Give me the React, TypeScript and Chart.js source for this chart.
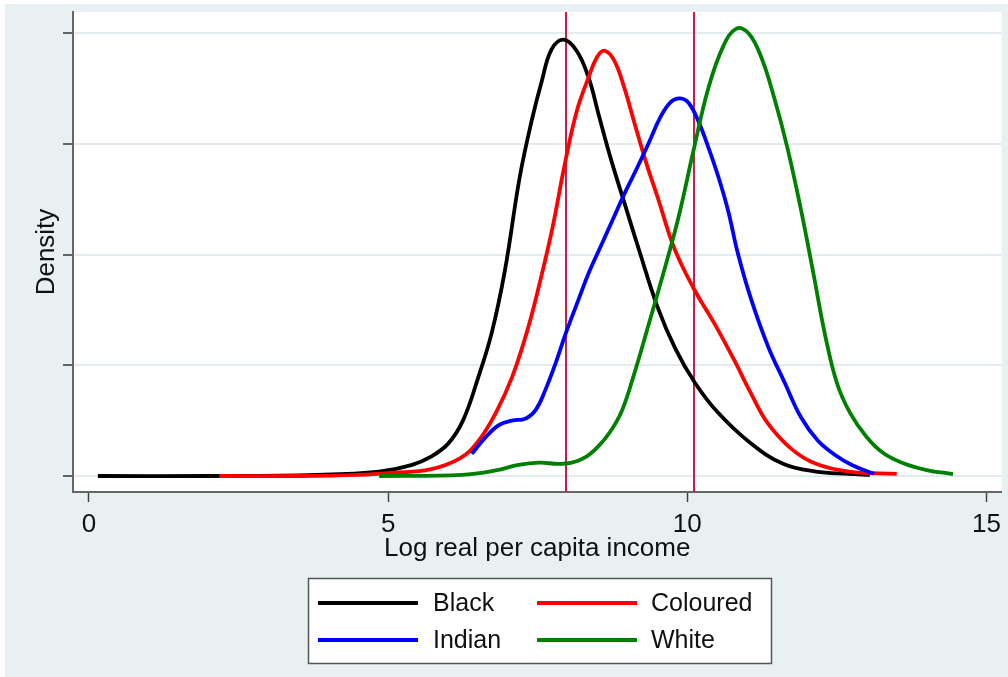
import React, { useEffect, useRef } from "react";
import { Chart, registerables } from "chart.js";

Chart.register(...registerables);

// ---- data ----
const seriesNames = ["Black", "Coloured", "Indian", "White"];
const seriesColors = ["#000000", "#ff0000", "#0000ff", "#008000"];

const blackX = [0.15, 2.0, 3.8, 4.85, 5.4, 5.7, 6.0, 6.25, 6.5, 6.73, 6.95, 7.2, 7.4, 7.57, 7.73, 7.93, 8.15, 8.35, 8.52, 8.73, 8.97, 9.2, 9.5, 9.8, 10.13, 10.5, 11.05, 11.6, 12.15, 12.7, 13.05];
const blackY = [0, 0, 0.001, 0.004, 0.01, 0.017, 0.029, 0.05, 0.088, 0.129, 0.185, 0.27, 0.321, 0.357, 0.385, 0.394, 0.384, 0.36, 0.326, 0.285, 0.243, 0.203, 0.153, 0.115, 0.084, 0.058, 0.03, 0.011, 0.004, 0.002, 0.001];

const colouredX = [2.18, 3.5, 4.5, 5.1, 5.7, 6.2, 6.5, 6.8, 7.07, 7.33, 7.55, 7.75, 7.95, 8.15, 8.35, 8.5, 8.62, 8.78, 8.95, 9.1, 9.3, 9.52, 9.78, 10.1, 10.45, 10.78, 11.06, 11.34, 11.75, 12.15, 12.7, 13.5];
const colouredY = [0, 0, 0.001, 0.003, 0.006, 0.016, 0.031, 0.057, 0.089, 0.132, 0.178, 0.225, 0.281, 0.329, 0.36, 0.379, 0.384, 0.375, 0.35, 0.322, 0.285, 0.249, 0.206, 0.17, 0.138, 0.105, 0.075, 0.048, 0.024, 0.011, 0.004, 0.002];

const indianX = [6.4, 6.63, 6.85, 7.07, 7.3, 7.47, 7.63, 7.8, 7.97, 8.18, 8.35, 8.55, 8.75, 8.95, 9.15, 9.35, 9.55, 9.73, 9.88, 10.02, 10.18, 10.35, 10.52, 10.68, 10.85, 11.07, 11.35, 11.63, 11.9, 12.18, 12.47, 12.75, 13.12];
const indianY = [0.02, 0.035, 0.046, 0.05, 0.052, 0.06, 0.078, 0.102, 0.129, 0.159, 0.183, 0.207, 0.231, 0.255, 0.277, 0.3, 0.324, 0.338, 0.341, 0.337, 0.321, 0.297, 0.27, 0.24, 0.2, 0.159, 0.117, 0.084, 0.053, 0.032, 0.019, 0.01, 0.002];

const whiteX = [4.85, 6.23, 6.8, 7.18, 7.52, 7.85, 8.07, 8.3, 8.5, 8.7, 8.9, 9.1, 9.35, 9.6, 9.85, 10.1, 10.35, 10.6, 10.82, 11.02, 11.23, 11.45, 11.67, 11.89, 12.1, 12.3, 12.5, 12.72, 13.0, 13.28, 13.61, 14.0, 14.44];
const whiteY = [0, 0.001, 0.005, 0.01, 0.012, 0.011, 0.012, 0.017, 0.026, 0.039, 0.058, 0.09, 0.136, 0.183, 0.233, 0.293, 0.35, 0.388, 0.404, 0.4, 0.379, 0.342, 0.297, 0.243, 0.185, 0.128, 0.084, 0.057, 0.035, 0.0205, 0.0115, 0.0054, 0.0018];

const seriesX = [blackX, colouredX, indianX, whiteX];
const seriesY = [blackY, colouredY, indianY, whiteY];

const xTickValues = [0, 5, 10, 15];
const yTickValues = [0, 0.1, 0.2, 0.3, 0.4];
const xLineValues = [7.98, 10.12];
const xAxisTitle = "Log real per capita income";
const yAxisTitle = "Density";

const FONT = "'Liberation Sans', Arial, Helvetica, sans-serif";

const bgPlugin = {
  id: "bgPlugin",
  beforeDraw(chart: any) {
    const { ctx, width, height, chartArea } = chart;
    ctx.save();
    ctx.fillStyle = "#ffffff";
    ctx.fillRect(0, 0, width, height);
    ctx.fillStyle = "#e8f0f2";
    ctx.fillRect(5, 4, width - 5, height - 4);
    ctx.fillStyle = "#ffffff";
    ctx.fillRect(chartArea.left, chartArea.top, chartArea.right - chartArea.left, chartArea.bottom - chartArea.top);
    ctx.restore();
  },
};

const vlinePlugin = {
  id: "vlinePlugin",
  beforeDatasetsDraw(chart: any) {
    const { ctx, chartArea, scales } = chart;
    ctx.save();
    ctx.strokeStyle = "#c4204c";
    ctx.lineWidth = 2;
    xLineValues.forEach((v) => {
      const px = Math.round(scales.x.getPixelForValue(v));
      ctx.beginPath();
      ctx.moveTo(px, chartArea.top);
      ctx.lineTo(px, chartArea.bottom);
      ctx.stroke();
    });
    ctx.restore();
  },
};

const legendPlugin = {
  id: "boxLegend",
  afterDraw(chart: any) {
    const { ctx } = chart;
    const box = { x: 308, y: 578, w: 463, h: 85 };
    ctx.save();
    ctx.fillStyle = "#ffffff";
    ctx.fillRect(box.x, box.y, box.w, box.h);
    ctx.strokeStyle = "#555555";
    ctx.lineWidth = 1.5;
    ctx.strokeRect(box.x + 0.5, box.y + 0.5, box.w, box.h);
    const cols = [
      { lx: 318, tx: 433 },
      { lx: 537, tx: 651 },
    ];
    const rows = [603, 640];
    ctx.font = `25px ${FONT}`;
    ctx.textBaseline = "middle";
    ctx.textAlign = "left";
    chart.data.datasets.forEach((ds: any, i: number) => {
      const c = cols[i % 2];
      const r = rows[Math.floor(i / 2)];
      ctx.strokeStyle = ds.borderColor;
      ctx.lineWidth = 3.8;
      ctx.beginPath();
      ctx.moveTo(c.lx, r);
      ctx.lineTo(c.lx + 100, r);
      ctx.stroke();
      ctx.fillStyle = "#111111";
      ctx.fillText(ds.label, c.tx, r + 1);
    });
    ctx.restore();
  },
};

export default function App() {
  const ref = useRef<HTMLCanvasElement | null>(null);

  useEffect(() => {
    if (!ref.current) return;
    const datasets = seriesNames.map((name, i) => ({
      label: name,
      data: seriesX[i].map((x, j) => ({ x, y: seriesY[i][j] })),
      borderColor: seriesColors[i],
      backgroundColor: seriesColors[i],
      borderWidth: 3.8,
      pointRadius: 0,
      fill: false,
      tension: 0.4,
      order: seriesNames.length - i,
    }));

    const chart = new Chart(ref.current, {
      type: "line",
      data: { datasets },
      plugins: [bgPlugin, vlinePlugin, legendPlugin],
      options: {
        animation: false,
        responsive: false,
        devicePixelRatio: 1,
        layout: { padding: { left: 5, top: 12, right: 3, bottom: 0 } },
        plugins: { legend: { display: false }, title: { display: false }, tooltip: { enabled: false } },
        scales: {
          x: {
            type: "linear",
            min: -0.266,
            max: 15.25,
            afterBuildTicks: (axis: any) => {
              axis.ticks = xTickValues.map((v) => ({ value: v }));
            },
            afterFit: (s: any) => {
              s.height = 185;
            },
            grid: {
              display: true,
              drawOnChartArea: false,
              drawTicks: true,
              tickLength: 10,
              tickColor: "#444444",
              tickWidth: 1.5,
            },
            border: { display: true, color: "#666666", width: 2 },
            ticks: {
              color: "#111111",
              font: { family: FONT, size: 26 },
              padding: 7,
              maxRotation: 0,
              autoSkip: false,
              callback: (v: any) => String(v),
            },
            title: {
              display: true,
              text: xAxisTitle,
              color: "#111111",
              font: { family: FONT, size: 26 },
              padding: { top: 0, bottom: 113 },
            },
          },
          y: {
            type: "linear",
            min: -0.01445,
            max: 0.419,
            afterBuildTicks: (axis: any) => {
              axis.ticks = yTickValues.map((v) => ({ value: v }));
            },
            afterFit: (s: any) => {
              s.width = 68;
            },
            grid: {
              display: true,
              drawOnChartArea: true,
              drawTicks: true,
              tickLength: 10,
              color: "#e3ebef",
              lineWidth: 2,
              tickColor: "#333333",
              tickWidth: 1.5,
            },
            border: { display: true, color: "#666666", width: 2 },
            ticks: { display: false },
            title: {
              display: true,
              text: yAxisTitle,
              color: "#111111",
              font: { family: FONT, size: 26 },
              padding: { top: 26, bottom: 0 },
            },
          },
        },
      },
    });
    return () => chart.destroy();
  }, []);

  return (
    <div style={{ position: "fixed", left: 0, top: 0, width: 1008, height: 677 }}>
      <canvas ref={ref} width={1008} height={677} style={{ width: 1008, height: 677, display: "block" }} />
    </div>
  );
}
